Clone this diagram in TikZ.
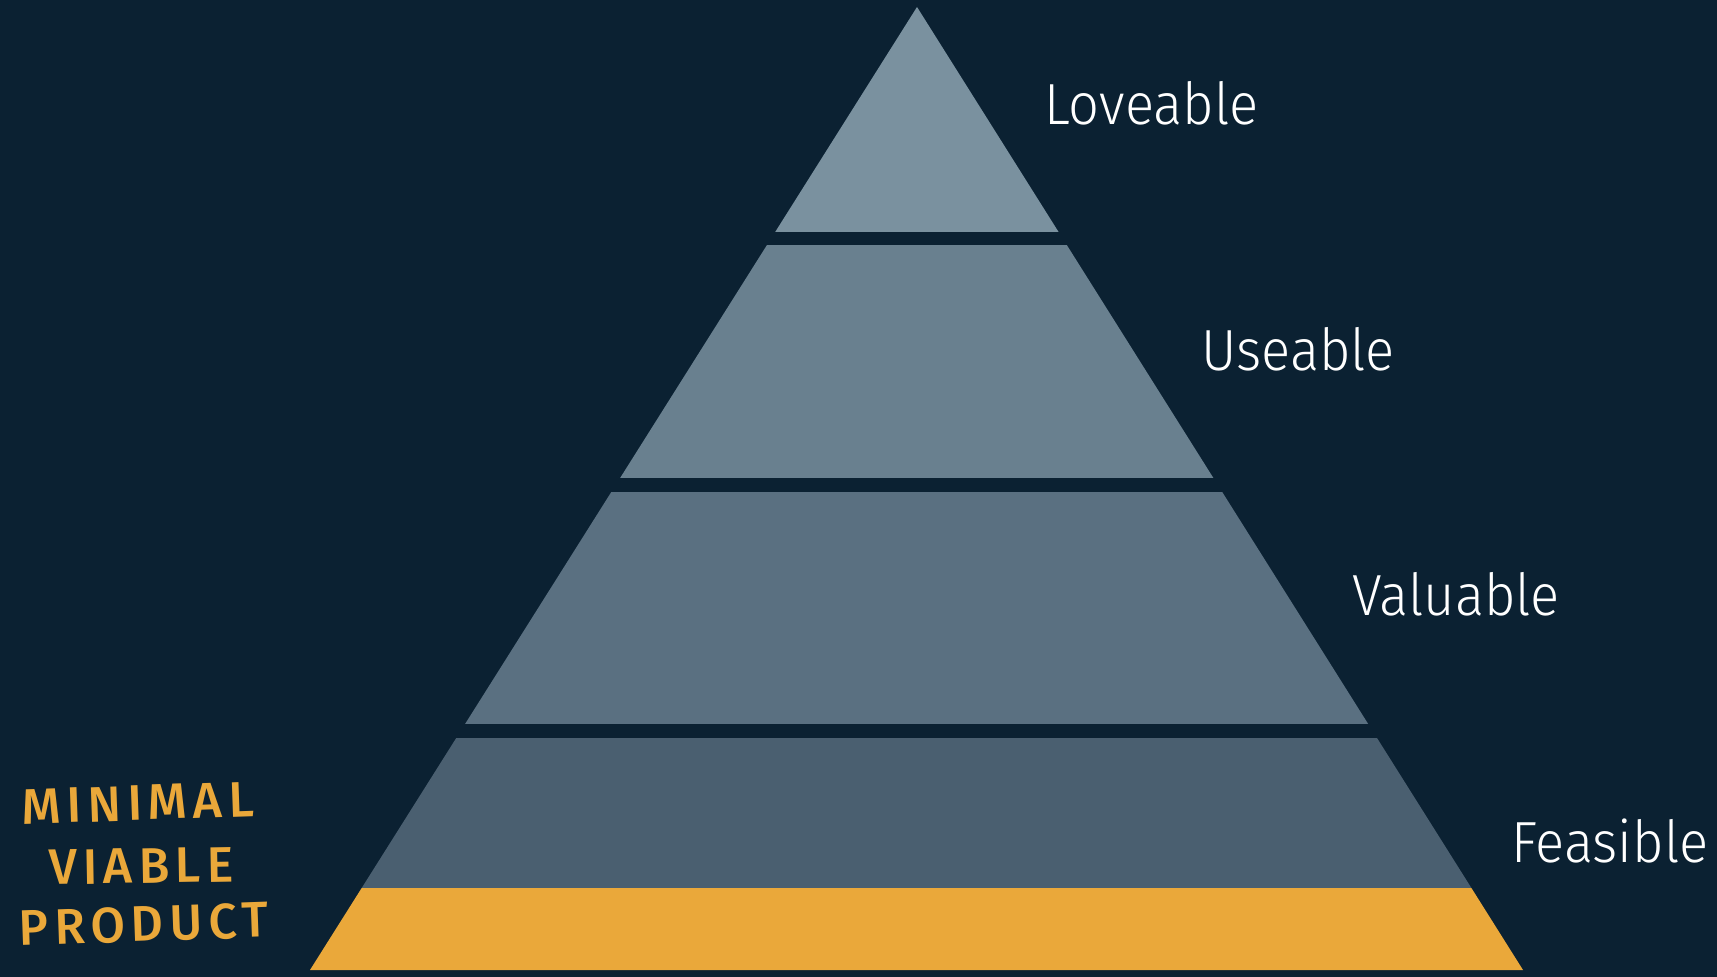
\documentclass[tikz,border=0pt]{standalone}
\usepackage{fontspec}
\setmainfont{Fira Sans}[UprightFont=* Light, BoldFont=* SemiBold, FakeStretch=0.935]
\newfontfamily\handfontwide{Fira Sans}[UprightFont=* Medium, LetterSpace=12]
\definecolor{bg}{HTML}{0B2132}
\definecolor{tierA}{HTML}{7A919F}
\definecolor{tierB}{HTML}{69808F}
\definecolor{tierC}{HTML}{5A7081}
\definecolor{tierD}{HTML}{4A5F70}
\definecolor{mvp}{HTML}{EAA83A}
\tikzset{
  label/.style={text=white, font=\fontsize{29}{34}\selectfont, anchor=west, inner sep=0pt},
  hand/.style={text=mvp, font=\handfontwide\fontsize{25}{28}\selectfont, inner sep=0pt},
}
\begin{document}
\begin{tikzpicture}[x=0.5pt,y=-0.5pt]
\fill[bg] (0,0) rectangle (1717,977);
\useasboundingbox (0,0) rectangle (1717,977);
\coordinate (apex) at (917,7);
\coordinate (bl) at (310,970);
\coordinate (br) at (1523,970);
\begin{scope}
\clip (apex) -- (bl) -- (br) -- cycle;
\fill[tierA] (0,0) rectangle (1717,232);
\fill[tierB] (0,245) rectangle (1717,478);
\fill[tierC] (0,492) rectangle (1717,724);
\fill[tierD] (0,738) rectangle (1717,888);
\fill[mvp] (0,888) rectangle (1717,971);
\end{scope}
\node[label, anchor=base west] (love) at (1044,125) {Loveable};
\node[label, anchor=base west] (use) at (1201,371) {Useable};
\node[label, anchor=base west] (val) at (1352,616) {Valuable};
\node[label, anchor=base west] (feas) at (1511,862) {Feasible};
\node[hand, rotate=2] (m1) at (138,803) {MINIMAL};
\node[hand, rotate=1] (m2) at (141,866) {VIABLE};
\node[hand, rotate=2] (m3) at (144,924) {PRODUCT};
\end{tikzpicture}
\end{document}
